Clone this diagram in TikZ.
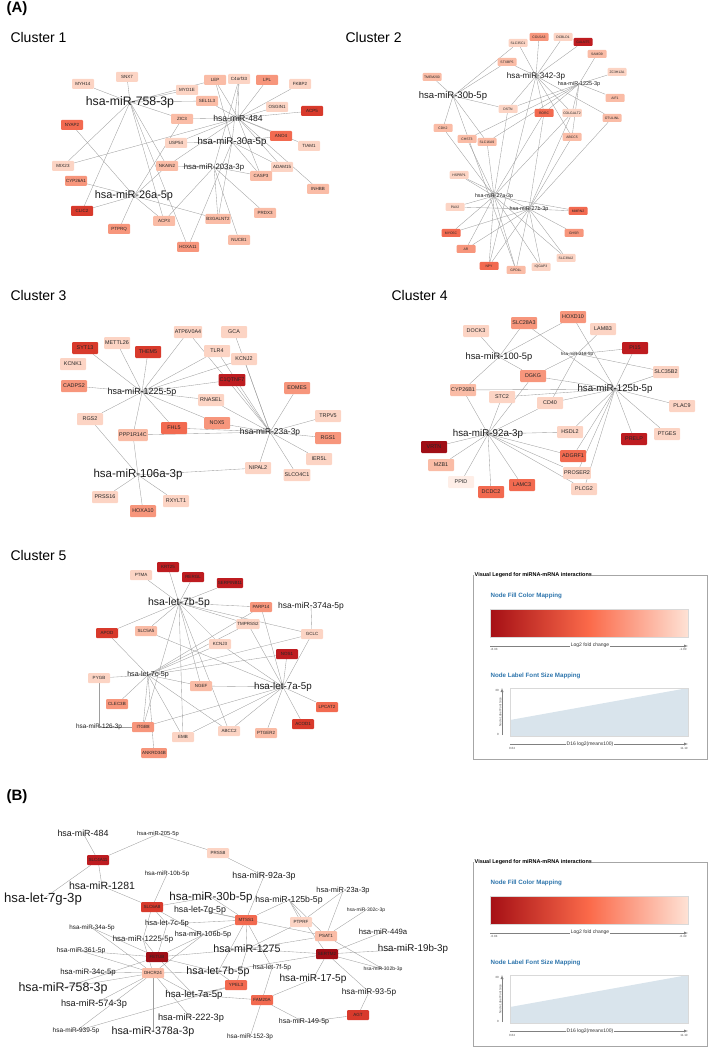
\documentclass[tikz,border=0pt]{standalone}
\usepackage{fontspec}
\setmainfont{Liberation Sans}
\usetikzlibrary{backgrounds}

\definecolor{fc0}{RGB}{254,238,231}
\definecolor{fc1}{RGB}{252,212,196}
\definecolor{fc2}{RGB}{250,188,166}
\definecolor{fc3}{RGB}{247,150,124}
\definecolor{fc4}{RGB}{242,106,80}
\definecolor{fc5}{RGB}{216,58,44}
\definecolor{fc6}{RGB}{190,28,32}
\definecolor{fc7}{RGB}{160,14,22}
\definecolor{gradlo}{RGB}{165,15,21}
\definecolor{gradmid}{RGB}{251,106,74}
\definecolor{gradhi}{RGB}{254,226,213}
\definecolor{edgegray}{RGB}{158,158,158}
\definecolor{legblue}{RGB}{46,117,172}
\definecolor{legfill}{RGB}{217,228,236}

\newcommand{\fs}[1]{\fontsize{#1}{#1}\selectfont}

\begin{document}
\begin{tikzpicture}[x=1pt, y=-1pt,
  gene/.style = {fill=#1, rounded corners=1pt, minimum width=22, minimum height=10, inner sep=1pt, text=black!85, font=\fs{4.5}},
  genes/.style = {gene=#1, minimum width=19, minimum height=8, font=\fs{3.4}},
  genel/.style = {gene=#1, minimum width=26, minimum height=12, font=\fs{5.4}},
  mir/.style = {inner sep=0pt, text=black!90},
  link/.style = {draw=edgegray, line width=0.35pt},
  clustertitle/.style = {anchor=west, font=\fs{14}},
  legtext/.style = {inner sep=0.6pt, font=\fs{5}, text=black!80},
  legtick/.style = {anchor=north, inner sep=0pt, font=\fs{3}, text=black!70},
]
\useasboundingbox (0,0) rectangle (709,1048);

\node[anchor=west, font=\bfseries\fs{15}] (partA) at (3,9) {(A)};
\node[anchor=west, font=\bfseries\fs{15}] (partB) at (3,797) {(B)};

% Cluster 1
\node[clustertitle] (title1) at (7,38) {Cluster 1};
\node[gene=fc1] (SNX7) at (127,77) {SNX7};
\node[gene=fc1] (MYH14) at (83,84) {MYH14};
\node[gene=fc2] (LEP) at (215,80) {LEP};
\node[gene=fc1] (C4orf33) at (239,79) {C4orf33};
\node[gene=fc3] (LPL) at (267,80) {LPL};
\node[gene=fc1] (FKBP2) at (300,84) {FKBP2};
\node[gene=fc1] (MYO1E) at (187,90) {MYO1E};
\node[gene=fc2] (SEL1L3) at (207,101) {SEL1L3};
\node[gene=fc1] (OSGIN1) at (277,107) {OSGIN1};
\node[gene=fc5] (ACP5) at (312,111) {ACP5};
\node[gene=fc2] (ZIC3) at (182,119) {ZIC3};
\node[gene=fc4] (NYAP2) at (72,125) {NYAP2};
\node[gene=fc4] (ANO4) at (281,136) {ANO4};
\node[gene=fc1] (USP54) at (176,143) {USP54};
\node[gene=fc1] (TIAM1) at (309,146) {TIAM1};
\node[gene=fc1] (MIX23) at (63,166) {MIX23};
\node[gene=fc2] (NKAIN2) at (167,166) {NKAIN2};
\node[gene=fc1] (ADAM15) at (282,167) {ADAM15};
\node[gene=fc2] (CASP3) at (261,176) {CASP3};
\node[gene=fc3] (CYP26A1) at (76,181) {CYP26A1};
\node[gene=fc2] (INHBB) at (318,189) {INHBB};
\node[gene=fc5] (CLIC2) at (82,211) {CLIC2};
\node[gene=fc2] (PRDX3) at (265,213) {PRDX3};
\node[gene=fc2] (ACP3) at (164,221) {ACP3};
\node[gene=fc2] (B3GALNT2) at (218,219) {B3GALNT2};
\node[gene=fc3] (PTPRQ) at (119,229) {PTPRQ};
\node[gene=fc2] (NUCB1) at (239,240) {NUCB1};
\node[gene=fc3] (HOXA11) at (188,247) {HOXA11};
\node[mir] (c1m758) at (130,102) {\fs{12.3}hsa-miR-758-3p};
\node[mir] (c1m484) at (238,118) {\fs{8.6}hsa-miR-484};
\node[mir] (c1m30a) at (232,142) {\fs{9.6}hsa-miR-30a-5p};
\node[mir] (c1m203a) at (214,167) {\fs{7.8}hsa-miR-203a-3p};
\node[mir] (c1m26a) at (134,196) {\fs{10.9}hsa-miR-26a-5p};

% Cluster 2
\node[clustertitle] (title2) at (342,38) {Cluster 2};
\node[genes=fc3] (COL5A3) at (539,37) {COL5A3};
\node[genes=fc1] (DCBLD1) at (563,37) {DCBLD1};
\node[genes=fc6] (GALNT5) at (583,42) {GALNT5};
\node[genes=fc1] (SLC35C1) at (518,43) {SLC35C1};
\node[genes=fc2] (SAMD9) at (597,54) {SAMD9};
\node[genes=fc2] (STXBP5) at (507,62) {STXBP5};
\node[genes=fc1] (ZC3H12A) at (617,72) {ZC3H12A};
\node[genes=fc2] (TMEM200) at (432,77) {TMEM200};
\node[genes=fc2] (AIF1) at (615,98) {AIF1};
\node[genes=fc1] (DSTN) at (508,109) {DSTN};
\node[genes=fc4] (RORC) at (544,113) {RORC};
\node[genes=fc1] (COLGALT2) at (572,113) {COLGALT2};
\node[genes=fc2] (OTULINL) at (612,118) {OTULINL};
\node[genes=fc2] (CDK2) at (443,128) {CDK2};
\node[genes=fc2] (CHST3) at (467,139) {CHST3};
\node[genes=fc2] (SLC16A9) at (487,142) {SLC16A9};
\node[genes=fc2] (ABCC5) at (572,137) {ABCC5};
\node[genes=fc1] (HSPBP1) at (459,175) {HSPBP1};
\node[genes=fc1] (PAX2) at (455,207) {PAX2};
\node[genes=fc4] (MMRN2) at (578,211) {MMRN2};
\node[genes=fc4] (MYO5C) at (451,233) {MYO5C};
\node[genes=fc3] (GHSR) at (574,233) {GHSR};
\node[genes=fc3] (AR) at (466,249) {AR};
\node[genes=fc1] (SLC39A2) at (566,258) {SLC39A2};
\node[genes=fc4] (NPY) at (489,266) {NPY};
\node[genes=fc2] (GPD1L) at (516,270) {GPD1L};
\node[genes=fc1] (IQGAP3) at (541,267) {IQGAP3};
\node[mir] (c2m342) at (536,76) {\fs{8.1}hsa-miR-342-3p};
\node[mir] (c2m1225) at (579,84) {\fs{5.5}hsa-miR-1225-3p};
\node[mir] (c2m30b) at (453,96) {\fs{9.5}hsa-miR-30b-5p};
\node[mir] (c2m27a) at (494,196) {\fs{5.3}hsa-miR-27a-3p};
\node[mir] (c2m27b) at (529,209) {\fs{5.4}hsa-miR-27b-3p};

% Cluster 3
\node[clustertitle] (title3) at (7,295) {Cluster 3};
\node[genel=fc1] (ATP6V0A4) at (188,332) {ATP6V0A4};
\node[genel=fc1] (GCA) at (234,332) {GCA};
\node[genel=fc1] (METTL26) at (117,343) {METTL26};
\node[genel=fc5] (SYT13) at (85,348) {SYT13};
\node[genel=fc5] (THEM5) at (148,352) {THEM5};
\node[genel=fc1] (TLR4) at (217,351) {TLR4};
\node[genel=fc1] (KCNJ2) at (244,359) {KCNJ2};
\node[genel=fc1] (KCNK1) at (73,364) {KCNK1};
\node[genel=fc6] (C1QTNF7) at (232,380) {C1QTNF7};
\node[genel=fc3] (CADPS2) at (74,386) {CADPS2};
\node[genel=fc3] (EOMES) at (297,388) {EOMES};
\node[genel=fc1] (RNASEL) at (211,400) {RNASEL};
\node[genel=fc1] (TRPV5) at (328,416) {TRPV5};
\node[genel=fc1] (RGS2) at (90,419) {RGS2};
\node[genel=fc3] (NOX5) at (217,423) {NOX5};
\node[genel=fc4] (FHL5) at (174,428) {FHL5};
\node[genel=fc2] (PPP1R14C) at (133,435) {PPP1R14C};
\node[genel=fc3] (RGS1) at (328,438) {RGS1};
\node[genel=fc1] (IER5L) at (319,459) {IER5L};
\node[genel=fc1] (NIPAL2) at (258,468) {NIPAL2};
\node[genel=fc1] (SLCO4C1) at (297,475) {SLCO4C1};
\node[genel=fc1] (PRSS16) at (105,497) {PRSS16};
\node[genel=fc1] (RXYLT1) at (176,501) {RXYLT1};
\node[genel=fc3] (HOXA10) at (143,511) {HOXA10};
\node[mir] (c3m1225) at (142,392) {\fs{8.9}hsa-miR-1225-5p};
\node[mir] (c3m23a) at (270,432) {\fs{8.4}hsa-miR-23a-3p};
\node[mir] (c3m106a) at (138,475) {\fs{11.5}hsa-miR-106a-3p};

% Cluster 4
\node[clustertitle] (title4) at (388,295) {Cluster 4};
\node[genel=fc3] (HOXD10) at (573,317) {HOXD10};
\node[genel=fc3] (SLC28A3) at (524,323) {SLC28A3};
\node[genel=fc1] (LAMB3) at (603,329) {LAMB3};
\node[genel=fc1] (DOCK3) at (476,331) {DOCK3};
\node[genel=fc6] (PI15) at (635,348) {PI15};
\node[genel=fc1] (SLC35B2) at (666,372) {SLC35B2};
\node[genel=fc3] (DGKG) at (533,376) {DGKG};
\node[genel=fc2] (CYP26B1) at (463,390) {CYP26B1};
\node[genel=fc1] (STC2) at (502,397) {STC2};
\node[genel=fc1] (CD40) at (550,403) {CD40};
\node[genel=fc1] (PLAC9) at (682,406) {PLAC9};
\node[genel=fc1] (HSDL2) at (570,432) {HSDL2};
\node[genel=fc1] (PTGES) at (667,434) {PTGES};
\node[genel=fc6] (PRELP) at (634,439) {PRELP};
\node[genel=fc7] (VRTN) at (434,447) {VRTN};
\node[genel=fc4] (ADGRF1) at (573,456) {ADGRF1};
\node[genel=fc2] (MZB1) at (441,465) {MZB1};
\node[genel=fc1] (PROSER2) at (577,473) {PROSER2};
\node[genel=fc0] (PPID) at (461,482) {PPID};
\node[genel=fc4] (LAMC3) at (522,485) {LAMC3};
\node[genel=fc4] (DCDC2) at (491,492) {DCDC2};
\node[genel=fc1] (PLCG2) at (584,489) {PLCG2};
\node[mir] (c4m218) at (577,354) {\fs{4.5}hsa-miR-218-5p};
\node[mir] (c4m100) at (499,357) {\fs{9.3}hsa-miR-100-5p};
\node[mir] (c4m125b) at (615,389) {\fs{9.7}hsa-miR-125b-5p};
\node[mir] (c4m92a) at (488,434) {\fs{9.8}hsa-miR-92a-3p};

% Cluster 5
\node[clustertitle] (title5) at (7,555) {Cluster 5};
\node[gene=fc6] (KRT25) at (168,567) {KRT25};
\node[gene=fc1] (PTMA) at (141,575) {PTMA};
\node[gene=fc6] (RERGL) at (193,577) {RERGL};
\node[gene=fc6] (SERPINB11) at (230,583) {SERPINB11};
\node[gene=fc3] (PARP14) at (261,607) {PARP14};
\node[gene=fc1] (TMPRSS2) at (248,624) {TMPRSS2};
\node[gene=fc5] (APOD) at (107,633) {APOD};
\node[gene=fc2] (SLC5A5) at (146,631) {SLC5A5};
\node[gene=fc1] (GCLC) at (312,634) {GCLC};
\node[gene=fc1] (KCNJ3) at (220,644) {KCNJ3};
\node[gene=fc6] (NOS1) at (287,654) {NOS1};
\node[gene=fc1] (PYGB) at (99,678) {PYGB};
\node[gene=fc2] (NGEF) at (201,686) {NGEF};
\node[gene=fc3] (CLEC3B) at (117,704) {CLEC3B};
\node[gene=fc4] (LPCAT2) at (327,707) {LPCAT2};
\node[gene=fc5] (ACOD1) at (303,724) {ACOD1};
\node[gene=fc3] (ITGB8) at (143,727) {ITGB8};
\node[gene=fc1] (ABCC2) at (229,731) {ABCC2};
\node[gene=fc2] (PTGER2) at (266,733) {PTGER2};
\node[gene=fc1] (EMB) at (183,737) {EMB};
\node[gene=fc3] (ANKRD34B) at (154,753) {ANKRD34B};
\node[mir] (c5m7b) at (179,603) {\fs{10.5}hsa-let-7b-5p};
\node[mir] (c5m374a) at (311,606) {\fs{8.5}hsa-miR-374a-5p};
\node[mir] (c5m7c) at (148,675) {\fs{7.1}hsa-let-7c-5p};
\node[mir] (c5m7a) at (283,687) {\fs{9.8}hsa-let-7a-5p};
\node[mir] (c5m126) at (99,727) {\fs{6.4}hsa-miR-126-3p};

% Part B network
\node[gene=fc6] (SLC4A11) at (98,860) {SLC4A11};
\node[gene=fc1] (PRSS8) at (218,853) {PRSS8};
\node[gene=fc5] (SLC6A8) at (152,907) {SLC6A8};
\node[gene=fc4] (MTSS1) at (246,920) {MTSS1};
\node[gene=fc7] (FETUB) at (157,957) {FETUB};
\node[gene=fc2] (DHCR24) at (153,973) {DHCR24};
\node[gene=fc4] (YPEL3) at (236,985) {YPEL3};
\node[gene=fc1] (PTPRF) at (301,922) {PTPRF};
\node[gene=fc2] (PSAT1) at (326,936) {PSAT1};
\node[gene=fc7] (SERTM2) at (327,954) {SERTM2};
\node[gene=fc4] (FAM20A) at (262,1000) {FAM20A};
\node[gene=fc5] (AGT) at (358,1015) {AGT};
\node[mir] (bm484) at (83,833) {\fs{8.9}hsa-miR-484};
\node[mir] (bm205) at (158,834) {\fs{5.8}hsa-miR-205-5p};
\node[mir] (bm10b) at (167,874) {\fs{6.2}hsa-miR-10b-5p};
\node[mir] (bm1281) at (102,886) {\fs{10.5}hsa-miR-1281};
\node[mir] (bm7g3) at (43,899) {\fs{13.2}hsa-let-7g-3p};
\node[mir] (bm30b) at (211,897) {\fs{11.6}hsa-miR-30b-5p};
\node[mir] (bm7g5) at (200,910) {\fs{8.8}hsa-let-7g-5p};
\node[mir] (bm7c) at (167,924) {\fs{7.5}hsa-let-7c-5p};
\node[mir] (bm34a) at (92,928) {\fs{6.3}hsa-miR-34a-5p};
\node[mir] (bm106b) at (203,935) {\fs{7.3}hsa-miR-106b-5p};
\node[mir] (bm1225) at (143,939) {\fs{7.8}hsa-miR-1225-5p};
\node[mir] (bm361) at (81,951) {\fs{6.8}hsa-miR-361-5p};
\node[mir] (bm1275) at (247,949) {\fs{10.7}hsa-miR-1275};
\node[mir] (bm34c) at (88,972) {\fs{7.8}hsa-miR-34c-5p};
\node[mir] (bm7b) at (218,972) {\fs{10.7}hsa-let-7b-5p};
\node[mir] (bm758) at (63,988) {\fs{12.4}hsa-miR-758-3p};
\node[mir] (bm7a) at (194,995) {\fs{9.7}hsa-let-7a-5p};
\node[mir] (bm574) at (94,1004) {\fs{9.2}hsa-miR-574-3p};
\node[mir] (bm222) at (191,1018) {\fs{9.2}hsa-miR-222-3p};
\node[mir] (bm939) at (76,1031) {\fs{6.5}hsa-miR-939-5p};
\node[mir] (bm378a) at (153,1032) {\fs{10.7}hsa-miR-378a-3p};
\node[mir] (bm92a) at (264,876) {\fs{8.8}hsa-miR-92a-3p};
\node[mir] (bm23a) at (343,891) {\fs{7.4}hsa-miR-23a-3p};
\node[mir] (bm125b) at (289,900) {\fs{8.7}hsa-miR-125b-5p};
\node[mir] (bm302c) at (366,910) {\fs{5}hsa-miR-302c-3p};
\node[mir] (bm449a) at (383,932) {\fs{7.7}hsa-miR-449a};
\node[mir] (bm19b) at (413,949) {\fs{9.8}hsa-miR-19b-3p};
\node[mir] (bm7f) at (272,968) {\fs{6.8}hsa-let-7f-5p};
\node[mir] (bm302b) at (383,969) {\fs{5}hsa-miR-302b-3p};
\node[mir] (bm17) at (313,979) {\fs{10.1}hsa-miR-17-5p};
\node[mir] (bm93) at (369,992) {\fs{8.2}hsa-miR-93-5p};
\node[mir] (bm149) at (304,1022) {\fs{7}hsa-miR-149-5p};
\node[mir] (bm152) at (250,1037) {\fs{6.4}hsa-miR-152-3p};

% interactions, under the nodes
\begin{scope}[on background layer]
\begin{scope}[every path/.style={link}]
% cluster 1
\draw (c1m758.center) -- (SNX7);
\draw (c1m758.center) -- (MYH14);
\draw (c1m758.center) -- (MYO1E);
\draw (c1m758.center) -- (LEP);
\draw (c1m758.center) -- (SEL1L3);
\draw (c1m758.center) -- (ZIC3);
\draw (c1m758.center) -- (MIX23);
\draw (c1m758.center) -- (CLIC2);
\draw (c1m758.center) -- (NKAIN2);
\draw (c1m758.center) -- (ACP3);
\draw (c1m758.center) -- (HOXA11);
\draw (c1m26a.center) -- (NYAP2);
\draw (c1m26a.center) -- (CYP26A1);
\draw (c1m26a.center) -- (CLIC2);
\draw (c1m26a.center) -- (PTPRQ);
\draw (c1m26a.center) -- (ACP3);
\draw (c1m26a.center) -- (B3GALNT2);
\draw (c1m26a.center) -- (NKAIN2);
\draw (c1m26a.center) -- (ZIC3);
\draw (c1m484.center) -- (LEP);
\draw (c1m484.center) -- (C4orf33);
\draw (c1m484.center) -- (LPL);
\draw (c1m484.center) -- (FKBP2);
\draw (c1m484.center) -- (OSGIN1);
\draw (c1m484.center) -- (ACP5);
\draw (c1m484.center) -- (ZIC3);
\draw (c1m484.center) -- (ANO4);
\draw (c1m484.center) -- (TIAM1);
\draw (c1m484.center) -- (SEL1L3);
\draw (c1m484.center) -- (MIX23);
\draw (c1m484.center) -- (USP54);
\draw (c1m484.center) -- (INHBB);
\draw (c1m484.center) -- (ADAM15);
\draw (c1m484.center) -- (CASP3);
\draw (c1m484.center) -- (NKAIN2);
\draw (c1m30a.center) -- (LEP);
\draw (c1m30a.center) -- (C4orf33);
\draw (c1m30a.center) -- (ANO4);
\draw (c1m30a.center) -- (CASP3);
\draw (c1m30a.center) -- (ADAM15);
\draw (c1m30a.center) -- (B3GALNT2);
\draw (c1m30a.center) -- (HOXA11);
\draw (c1m30a.center) -- (USP54);
\draw (c1m203a.center) -- (NKAIN2);
\draw (c1m203a.center) -- (CASP3);
\draw (c1m203a.center) -- (ACP3);
\draw (c1m203a.center) -- (PRDX3);
\draw (c1m203a.center) -- (B3GALNT2);
\draw (c1m203a.center) -- (NUCB1);
\draw (c1m203a.center) -- (C4orf33);
% cluster 2
\draw (c2m30b.center) -- (TMEM200);
\draw (c2m30b.center) -- (STXBP5);
\draw (c2m30b.center) -- (SLC35C1);
\draw (c2m30b.center) -- (DSTN);
\draw (c2m30b.center) -- (CDK2);
\draw (c2m30b.center) -- (SLC16A9);
\draw (c2m30b.center) -- (GPD1L);
\draw (c2m342.center) -- (SLC35C1);
\draw (c2m342.center) -- (COL5A3);
\draw (c2m342.center) -- (DCBLD1);
\draw (c2m342.center) -- (GALNT5);
\draw (c2m342.center) -- (STXBP5);
\draw (c2m342.center) -- (DSTN);
\draw (c2m342.center) -- (RORC);
\draw (c2m342.center) -- (COLGALT2);
\draw (c2m342.center) -- (ABCC5);
\draw (c2m342.center) -- (OTULINL);
\draw (c2m342.center) -- (NPY);
\draw (c2m1225.center) -- (ZC3H12A);
\draw (c2m1225.center) -- (AIF1);
\draw (c2m1225.center) -- (SAMD9);
\draw (c2m1225.center) -- (COLGALT2);
\draw (c2m1225.center) -- (RORC);
\draw (c2m1225.center) -- (CHST3);
\draw (c2m1225.center) -- (SLC16A9);
\draw (c2m1225.center) -- (DSTN);
\draw (c2m1225.center) -- (ABCC5);
\draw (c2m27a.center) -- (HSPBP1);
\draw (c2m27a.center) -- (PAX2);
\draw (c2m27a.center) -- (MYO5C);
\draw (c2m27a.center) -- (AR);
\draw (c2m27a.center) -- (NPY);
\draw (c2m27a.center) -- (GPD1L);
\draw (c2m27a.center) -- (IQGAP3);
\draw (c2m27a.center) -- (SLC39A2);
\draw (c2m27a.center) -- (MMRN2);
\draw (c2m27a.center) -- (CHST3);
\draw (c2m27a.center) -- (SLC16A9);
\draw (c2m27a.center) -- (DSTN);
\draw (c2m27a.center) -- (RORC);
\draw (c2m27a.center) -- (COLGALT2);
\draw (c2m27a.center) -- (CDK2);
\draw (c2m27b.center) -- (MMRN2);
\draw (c2m27b.center) -- (GHSR);
\draw (c2m27b.center) -- (SLC39A2);
\draw (c2m27b.center) -- (IQGAP3);
\draw (c2m27b.center) -- (GPD1L);
\draw (c2m27b.center) -- (NPY);
\draw (c2m27b.center) -- (AR);
\draw (c2m27b.center) -- (MYO5C);
\draw (c2m27b.center) -- (PAX2);
\draw (c2m27b.center) -- (HSPBP1);
\draw (c2m27b.center) -- (OTULINL);
\draw (c2m27b.center) -- (ABCC5);
\draw (c2m27b.center) -- (COLGALT2);
\draw (c2m27b.center) -- (RORC);
% cluster 3
\draw (c3m1225.center) -- (SYT13);
\draw (c3m1225.center) -- (METTL26);
\draw (c3m1225.center) -- (THEM5);
\draw (c3m1225.center) -- (ATP6V0A4);
\draw (c3m1225.center) -- (TLR4);
\draw (c3m1225.center) -- (KCNJ2);
\draw (c3m1225.center) -- (C1QTNF7);
\draw (c3m1225.center) -- (CADPS2);
\draw (c3m1225.center) -- (RNASEL);
\draw (c3m1225.center) -- (FHL5);
\draw (c3m1225.center) -- (NOX5);
\draw (c3m1225.center) -- (RGS2);
\draw (c3m1225.center) -- (PPP1R14C);
\draw (c3m23a.center) -- (GCA);
\draw (c3m23a.center) -- (TLR4);
\draw (c3m23a.center) -- (KCNJ2);
\draw (c3m23a.center) -- (C1QTNF7);
\draw (c3m23a.center) -- (ATP6V0A4);
\draw (c3m23a.center) -- (EOMES);
\draw (c3m23a.center) -- (TRPV5);
\draw (c3m23a.center) -- (RGS1);
\draw (c3m23a.center) -- (IER5L);
\draw (c3m23a.center) -- (SLCO4C1);
\draw (c3m23a.center) -- (NIPAL2);
\draw (c3m23a.center) -- (RNASEL);
\draw (c3m23a.center) -- (NOX5);
\draw (c3m23a.center) -- (FHL5);
\draw (c3m23a.center) -- (PPP1R14C);
\draw (c3m106a.center) -- (RGS2);
\draw (c3m106a.center) -- (PPP1R14C);
\draw (c3m106a.center) -- (NIPAL2);
\draw (c3m106a.center) -- (PRSS16);
\draw (c3m106a.center) -- (HOXA10);
\draw (c3m106a.center) -- (RXYLT1);
% cluster 4
\draw (c4m100.center) -- (DOCK3);
\draw (c4m100.center) -- (SLC28A3);
\draw (c4m100.center) -- (HOXD10);
\draw (c4m100.center) -- (DGKG);
\draw (c4m100.center) -- (CYP26B1);
\draw (c4m218.center) -- (LAMB3);
\draw (c4m218.center) -- (PI15);
\draw (c4m218.center) -- (SLC35B2);
\draw (c4m218.center) -- (DGKG);
\draw (c4m218.center) -- (CD40);
\draw (c4m125b.center) -- (SLC28A3);
\draw (c4m125b.center) -- (HOXD10);
\draw (c4m125b.center) -- (DGKG);
\draw (c4m125b.center) -- (CYP26B1);
\draw (c4m125b.center) -- (STC2);
\draw (c4m125b.center) -- (CD40);
\draw (c4m125b.center) -- (SLC35B2);
\draw (c4m125b.center) -- (PLAC9);
\draw (c4m125b.center) -- (PTGES);
\draw (c4m125b.center) -- (PRELP);
\draw (c4m125b.center) -- (PI15);
\draw (c4m125b.center) -- (HSDL2);
\draw (c4m125b.center) -- (ADGRF1);
\draw (c4m125b.center) -- (PROSER2);
\draw (c4m125b.center) -- (PLCG2);
\draw (c4m92a.center) -- (CYP26B1);
\draw (c4m92a.center) -- (STC2);
\draw (c4m92a.center) -- (DGKG);
\draw (c4m92a.center) -- (CD40);
\draw (c4m92a.center) -- (HSDL2);
\draw (c4m92a.center) -- (VRTN);
\draw (c4m92a.center) -- (MZB1);
\draw (c4m92a.center) -- (PPID);
\draw (c4m92a.center) -- (DCDC2);
\draw (c4m92a.center) -- (LAMC3);
\draw (c4m92a.center) -- (ADGRF1);
\draw (c4m92a.center) -- (PROSER2);
\draw (c4m92a.center) -- (PLCG2);
% cluster 5
\draw (c5m7b.center) -- (PTMA);
\draw (c5m7b.center) -- (KRT25);
\draw (c5m7b.center) -- (RERGL);
\draw (c5m7b.center) -- (SERPINB11);
\draw (c5m7b.center) -- (PARP14);
\draw (c5m7b.center) -- (TMPRSS2);
\draw (c5m7b.center) -- (GCLC);
\draw (c5m7b.center) -- (KCNJ3);
\draw (c5m7b.center) -- (APOD);
\draw (c5m7b.center) -- (SLC5A5);
\draw (c5m7b.center) -- (ITGB8);
\draw (c5m7b.center) -- (EMB);
\draw (c5m7b.center) -- (NGEF);
\draw (c5m7b.center) -- (ABCC2);
\draw (c5m374a.center) -- (GCLC);
\draw (c5m7c.center) -- (APOD);
\draw (c5m7c.center) -- (PYGB);
\draw (c5m7c.center) -- (CLEC3B);
\draw (c5m7c.center) -- (ITGB8);
\draw (c5m7c.center) -- (ANKRD34B);
\draw (c5m7c.center) -- (EMB);
\draw (c5m7c.center) -- (ABCC2);
\draw (c5m7c.center) -- (NGEF);
\draw (c5m7c.center) -- (KCNJ3);
\draw (c5m7c.center) -- (TMPRSS2);
\draw (c5m7c.center) -- (PARP14);
\draw (c5m7c.center) -- (GCLC);
\draw (c5m7c.center) -- (NOS1);
\draw (c5m7a.center) -- (TMPRSS2);
\draw (c5m7a.center) -- (PARP14);
\draw (c5m7a.center) -- (GCLC);
\draw (c5m7a.center) -- (NOS1);
\draw (c5m7a.center) -- (KCNJ3);
\draw (c5m7a.center) -- (SLC5A5);
\draw (c5m7a.center) -- (NGEF);
\draw (c5m7a.center) -- (LPCAT2);
\draw (c5m7a.center) -- (ACOD1);
\draw (c5m7a.center) -- (PTGER2);
\draw (c5m7a.center) -- (ABCC2);
\draw (c5m7a.center) -- (EMB);
\draw (c5m7a.center) -- (ITGB8);
\draw (c5m126.center) -- (PYGB);
\draw (c5m126.center) -- (ITGB8);
% part B
\draw (bm484.center) -- (SLC4A11);
\draw (bm205.center) -- (SLC4A11);
\draw (bm7g3.center) -- (SLC4A11);
\draw (bm1281.center) -- (SLC4A11);
\draw (bm205.center) -- (PRSS8);
\draw (bm92a.center) -- (PRSS8);
\draw (bm1281.center) -- (SLC6A8);
\draw (bm10b.center) -- (SLC6A8);
\draw (bm30b.center) -- (SLC6A8);
\draw (bm7c.center) -- (SLC6A8);
\draw (bm106b.center) -- (SLC6A8);
\draw (bm1225.center) -- (SLC6A8);
\draw (bm30b.center) -- (MTSS1);
\draw (bm7g5.center) -- (MTSS1);
\draw (bm92a.center) -- (MTSS1);
\draw (bm125b.center) -- (MTSS1);
\draw (bm1275.center) -- (MTSS1);
\draw (bm7b.center) -- (MTSS1);
\draw (bm7f.center) -- (MTSS1);
\draw (bm106b.center) -- (MTSS1);
\draw (bm7c.center) -- (MTSS1);
\draw (bm1225.center) -- (FETUB);
\draw (bm7c.center) -- (FETUB);
\draw (bm106b.center) -- (FETUB);
\draw (bm361.center) -- (FETUB);
\draw (bm34a.center) -- (FETUB);
\draw (bm758.center) -- (FETUB);
\draw (bm7b.center) -- (FETUB);
\draw (bm7a.center) -- (FETUB);
\draw (bm1275.center) -- (FETUB);
\draw (bm34a.center) -- (DHCR24);
\draw (bm361.center) -- (DHCR24);
\draw (bm34c.center) -- (DHCR24);
\draw (bm758.center) -- (DHCR24);
\draw (bm574.center) -- (DHCR24);
\draw (bm939.center) -- (DHCR24);
\draw (bm378a.center) -- (DHCR24);
\draw (bm222.center) -- (DHCR24);
\draw (bm7a.center) -- (DHCR24);
\draw (bm7b.center) -- (DHCR24);
\draw (bm1225.center) -- (DHCR24);
\draw (bm106b.center) -- (DHCR24);
\draw (bm939.center) -- (YPEL3);
\draw (bm7a.center) -- (YPEL3);
\draw (bm7b.center) -- (YPEL3);
\draw (bm1275.center) -- (YPEL3);
\draw (bm125b.center) -- (PTPRF);
\draw (bm23a.center) -- (PTPRF);
\draw (bm1275.center) -- (PTPRF);
\draw (bm23a.center) -- (PSAT1);
\draw (bm302c.center) -- (PSAT1);
\draw (bm125b.center) -- (PSAT1);
\draw (bm1275.center) -- (PSAT1);
\draw (bm302b.center) -- (PSAT1);
\draw (bm7g5.center) -- (PSAT1);
\draw (bm449a.center) -- (SERTM2);
\draw (bm19b.center) -- (SERTM2);
\draw (bm302b.center) -- (SERTM2);
\draw (bm93.center) -- (SERTM2);
\draw (bm17.center) -- (SERTM2);
\draw (bm1275.center) -- (SERTM2);
\draw (bm125b.center) -- (SERTM2);
\draw (bm7b.center) -- (SERTM2);
\draw (bm7f.center) -- (FAM20A);
\draw (bm17.center) -- (FAM20A);
\draw (bm149.center) -- (FAM20A);
\draw (bm152.center) -- (FAM20A);
\draw (bm7a.center) -- (FAM20A);
\draw (bm93.center) -- (AGT);
\draw (bm149.center) -- (AGT);
\end{scope}
\end{scope}

% legend for part A
\draw[gray!70, line width=0.6pt] (473,575) rectangle (707,759);
\node[anchor=west, fill=white, inner sep=0.5pt, font=\bfseries\fs{5.5}] (legA) at (474,575) {Visual Legend for miRNA-mRNA interactions};
\node[anchor=west, text=legblue, font=\bfseries\fs{6.2}] (legAfill) at (487,596) {Node Fill Color Mapping};
\shade[left color=gradlo, right color=gradhi, middle color=gradmid] (490,609) rectangle (688,637);
\draw[gray!30, line width=0.3pt] (490,609) rectangle (688,637);
\draw[-latex, gray, line width=0.4pt] (490,646) -- (688,646);
\node[legtext, fill=white] (legAfc) at (590,645.5) {Log2 fold change};
\node[legtick] (legAlo) at (494,648.5) {-8.33};
\node[legtick] (legAhi) at (683,648.5) {-1.00};
\node[anchor=west, text=legblue, font=\bfseries\fs{6.2}] (legAsize) at (487,676) {Node Label Font Size Mapping};
\fill[legfill] (510,720) -- (688,688) -- (688,736) -- (510,736) -- cycle;
\draw[gray!30, line width=0.3pt] (510,688) rectangle (688,736);
\draw[-latex, gray, line width=0.4pt] (502,735) -- (502,688);
\node[legtick, anchor=east] (legAy30) at (499,690) {30};
\node[legtick, anchor=east] (legAy0) at (499,734) {0};
\node[rotate=90, anchor=south, inner sep=0.5pt, font=\fs{3}, text=black!70] (legAylab) at (502,712) {Node Label Font Size};
\draw[-latex, gray, line width=0.4pt] (510,744) -- (688,744);
\node[legtext, fill=white] (legAd16) at (590,744) {D16 log2(meanx100)};
\node[legtick] (legAx0) at (512,747.5) {0.64};
\node[legtick] (legAx1) at (684,747.5) {11.10};

% legend for part B
\draw[gray!70, line width=0.6pt] (473,862) rectangle (707,1046);
\node[anchor=west, fill=white, inner sep=0.5pt, font=\bfseries\fs{5.5}] (legB) at (474,862) {Visual Legend for miRNA-mRNA interactions};
\node[anchor=west, text=legblue, font=\bfseries\fs{6.2}] (legBfill) at (487,883) {Node Fill Color Mapping};
\shade[left color=gradlo, right color=gradhi, middle color=gradmid] (490,896) rectangle (688,924);
\draw[gray!30, line width=0.3pt] (490,896) rectangle (688,924);
\draw[-latex, gray, line width=0.4pt] (490,933) -- (688,933);
\node[legtext, fill=white] (legBfc) at (590,932.5) {Log2 fold change};
\node[legtick] (legBlo) at (494,935.5) {-0.94};
\node[legtick] (legBhi) at (683,935.5) {-0.40};
\node[anchor=west, text=legblue, font=\bfseries\fs{6.2}] (legBsize) at (487,963) {Node Label Font Size Mapping};
\fill[legfill] (510,1007) -- (688,975) -- (688,1023) -- (510,1023) -- cycle;
\draw[gray!30, line width=0.3pt] (510,975) rectangle (688,1023);
\draw[-latex, gray, line width=0.4pt] (502,1022) -- (502,975);
\node[legtick, anchor=east] (legBy30) at (499,977) {30};
\node[legtick, anchor=east] (legBy0) at (499,1021) {0};
\node[rotate=90, anchor=south, inner sep=0.5pt, font=\fs{3}, text=black!70] (legBylab) at (502,999) {Node Label Font Size};
\draw[-latex, gray, line width=0.4pt] (510,1031) -- (688,1031);
\node[legtext, fill=white] (legBd16) at (590,1031) {D16 log2(meanx100)};
\node[legtick] (legBx0) at (512,1034.5) {0.64};
\node[legtick] (legBx1) at (684,1034.5) {11.10};
\end{tikzpicture}
\end{document}
